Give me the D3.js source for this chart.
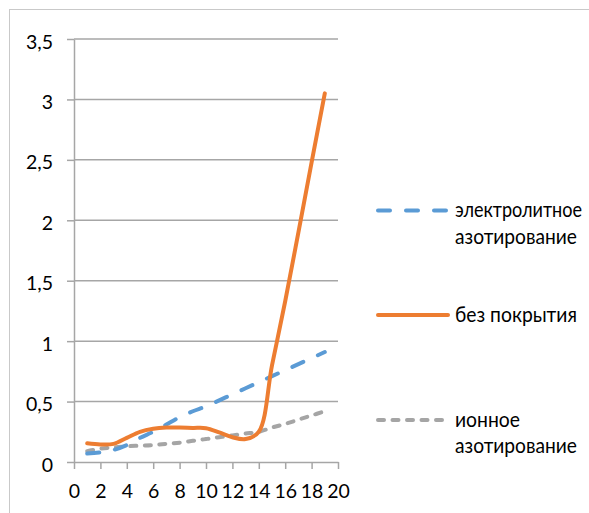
<!DOCTYPE html>
<html>
<head>
<meta charset="utf-8">
<script src="https://cdn.jsdelivr.net/npm/d3@7"></script>
<style>
  html, body { margin: 0; padding: 0; background: #fff; }
  svg { display: block; }
  text { font-family: Lato, "Noto Sans", sans-serif; fill: #000; }
</style>
</head>
<body>
<svg id="chart" width="589" height="513"></svg>
<script>
// ---- data ----
const xValues = [1, 2, 3, 4, 5, 6, 7, 8, 9, 10, 11, 12, 13, 14, 15, 16, 17, 18, 19];
const electrolytic = [0.07, 0.08, 0.10, 0.14, 0.20, 0.25, 0.31, 0.37, 0.42, 0.46, 0.51, 0.56, 0.61, 0.66, 0.71, 0.76, 0.81, 0.86, 0.91];
const uncoated     = [0.155, 0.145, 0.15, 0.20, 0.25, 0.275, 0.285, 0.285, 0.282, 0.28, 0.245, 0.205, 0.19, 0.25, 0.80, 1.33, 1.90, 2.48, 3.05];
const ionic        = [0.09, 0.11, 0.12, 0.13, 0.135, 0.14, 0.15, 0.16, 0.175, 0.19, 0.205, 0.22, 0.235, 0.25, 0.285, 0.315, 0.35, 0.385, 0.42];
const seriesNames  = ["электролитное азотирование", "без покрытия", "ионное азотирование"];
const legendLines  = [["электролитное", "азотирование"], ["без покрытия"], ["ионное", "азотирование"]];
const xTickValues  = [0, 2, 4, 6, 8, 10, 12, 14, 16, 18, 20];
const yTickValues  = [0, 0.5, 1, 1.5, 2, 2.5, 3, 3.5];
const yTickLabels  = ["0", "0,5", "1", "1,5", "2", "2,5", "3", "3,5"];

// ---- layout ----
const svg = d3.select("#chart");
const plotLeft = 74, plotRight = 338, plotTop = 39, plotBottom = 462;
const x = d3.scaleLinear().domain([0, 20]).range([plotLeft, plotRight]);
const y = d3.scaleLinear().domain([0, 3.5]).range([plotBottom, plotTop]);
const gridColor = "#a6a6a6";
const fontFamily = "Lato, 'Noto Sans', sans-serif";
const tickFont = 19.5;
const legendFont = 21;
// legend text widths as they appear in the reference (px)
const legendWidths = [[127, 122], [122], [65, 122]];

// chart area border
svg.append("rect")
  .attr("x", 9.5).attr("y", 9.5).attr("width", 700).attr("height", 700)
  .attr("fill", "none").attr("stroke", "#c9c9c9").attr("stroke-width", 1);

// gridlines
svg.append("g").selectAll("line")
  .data(yTickValues.filter(v => v > 0))
  .join("line")
  .attr("x1", plotLeft).attr("x2", plotRight)
  .attr("y1", d => y(d)).attr("y2", d => y(d))
  .attr("stroke", gridColor).attr("stroke-width", 1.5);

// y axis
const yAxis = svg.append("g")
  .attr("transform", `translate(${plotLeft},0)`)
  .call(d3.axisLeft(y).tickValues(yTickValues)
    .tickFormat((d, i) => yTickLabels[i]).tickSizeInner(7).tickSizeOuter(0));
yAxis.select(".domain").attr("stroke", gridColor).attr("stroke-width", 1.5);
yAxis.selectAll(".tick line").attr("stroke", gridColor).attr("stroke-width", 1.5);
yAxis.selectAll(".tick text")
  .attr("x", -21).attr("dy", null).attr("y", 9)
  .style("font-size", tickFont + "px").style("font-family", fontFamily)
  .attr("fill", "#000");

// x axis
const xAxis = svg.append("g")
  .attr("transform", `translate(0,${plotBottom})`)
  .call(d3.axisBottom(x).tickValues(xTickValues).tickFormat(d3.format("d"))
    .tickSizeInner(7).tickSizeOuter(0));
xAxis.select(".domain").attr("stroke", gridColor).attr("stroke-width", 1.5);
xAxis.selectAll(".tick line").attr("stroke", gridColor).attr("stroke-width", 1.5);
xAxis.selectAll(".tick text")
  .attr("y", 35.5).attr("dy", null)
  .style("font-size", tickFont + "px").style("font-family", fontFamily)
  .attr("fill", "#000");

// series
const series = [
  { name: seriesNames[0], values: electrolytic, color: "#5b9bd5", dash: "12,16" },
  { name: seriesNames[1], values: uncoated,     color: "#ed7d31", dash: null },
  { name: seriesNames[2], values: ionic,        color: "#a5a5a5", dash: "6,8.5" }
];
const line = d3.line()
  .x(d => x(d[0])).y(d => y(d[1]))
  .curve(d3.curveCatmullRom.alpha(0.5));

// draw order: ionic, electrolytic, uncoated on top
[2, 0, 1].forEach(i => {
  const s = series[i];
  svg.append("path")
    .datum(xValues.map((xv, j) => [xv, s.values[j]]))
    .attr("d", line)
    .attr("fill", "none")
    .attr("stroke", s.color)
    .attr("stroke-width", 4)
    .attr("stroke-linecap", "round")
    .attr("stroke-linejoin", "round")
    .attr("stroke-dasharray", s.dash);
});

// legend
const legendY = [210.5, 315, 420];
const legend = svg.append("g");
series.forEach((s, i) => {
  legend.append("line")
    .attr("x1", 378).attr("x2", 448)
    .attr("y1", legendY[i]).attr("y2", legendY[i])
    .attr("stroke", s.color).attr("stroke-width", 4)
    .attr("stroke-linecap", "round")
    .attr("stroke-dasharray", s.dash);
  legendLines[i].forEach((t, k) => {
    legend.append("text")
      .attr("x", 455)
      .attr("y", legendY[i] + 6.5 + k * 26.5)
      .attr("textLength", legendWidths[i][k])
      .attr("lengthAdjust", "spacingAndGlyphs")
      .style("font-size", legendFont + "px")
      .style("font-family", fontFamily)
      .text(t);
  });
});
</script>
</body>
</html>
